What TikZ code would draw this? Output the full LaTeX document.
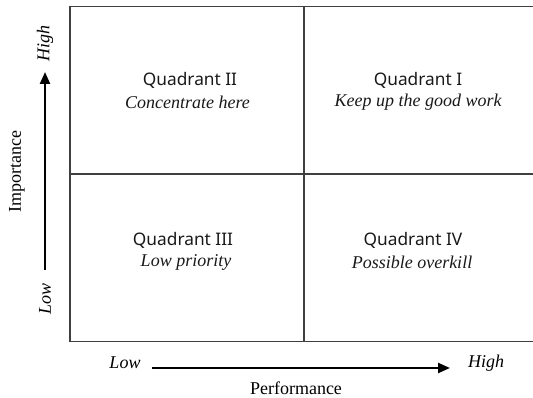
\documentclass[tikz,border=0pt]{standalone}
\usepackage{fontspec}
\setmainfont{Liberation Serif}
\newfontfamily\qfont{Noto Sans}
\usetikzlibrary{arrows.meta}
\begin{document}
\begin{tikzpicture}[x=1pt,y=1pt,
  grid/.style={draw=black!75,line width=1.4pt},
  axisarrow/.style={draw=black,line width=2.3pt,-{Triangle[length=12pt,width=10pt]}},
  qtitle/.style={inner sep=0pt,font=\qfont\fontsize{17.3}{20}\selectfont,text=black!90},
  qsub/.style={inner sep=0pt,font=\itshape\fontsize{18}{20}\selectfont,text=black!90},
  axlab/.style={inner sep=0pt,font=\itshape\fontsize{18}{20}\selectfont},
  axname/.style={inner sep=0pt,font=\fontsize{18}{20}\selectfont}]
\useasboundingbox (0,0) rectangle (533,398);
% grid
\coordinate (tl) at (70,391.5);
\coordinate (bl) at (70,56.5);
\coordinate (tr) at (533,391.5);
\coordinate (br) at (533,56.5);
\coordinate (tm) at (304,391.5);
\coordinate (bm) at (304,56.5);
\coordinate (ml) at (70,224);
\coordinate (mr) at (533,224);
\draw[grid] (tr) -- (tl) -- (bl) -- (br);
\draw[grid] (tm) -- (bm);
\draw[grid] (ml) -- (mr);
% quadrant texts
\node[qtitle] (q2) at (190,318) {Quadrant II};
\node[qsub] (q2s) at (187.5,296) {Concentrate here};
\node[qtitle] (q1) at (418,318) {Quadrant I};
\node[qsub] (q1s) at (418,296) {Keep up the good work};
\node[qtitle] (q3) at (183,158) {Quadrant III};
\node[qsub] (q3s) at (186,136) {Low priority};
\node[qtitle] (q4) at (413,158) {Quadrant IV};
\node[qsub] (q4s) at (412,136) {Possible overkill};
% vertical axis
\coordinate (va) at (45,128);
\coordinate (vb) at (45,326);
\draw[axisarrow] (va) -- (vb);
\node[axlab,rotate=90] (vhigh) at (45,354) {High};
\node[axlab,rotate=90] (vlow) at (45,99) {Low};
\node[axname,rotate=90] (imp) at (17,226) {Importance};
% horizontal axis
\coordinate (ha) at (152,30);
\coordinate (hb) at (450,30);
\draw[axisarrow] (ha) -- (hb);
\node[axlab] (hlow) at (125,35) {Low};
\node[axlab] (hhigh) at (486,35) {High};
\node[axname] (perf) at (296,10) {Performance};
\end{tikzpicture}
\end{document}
